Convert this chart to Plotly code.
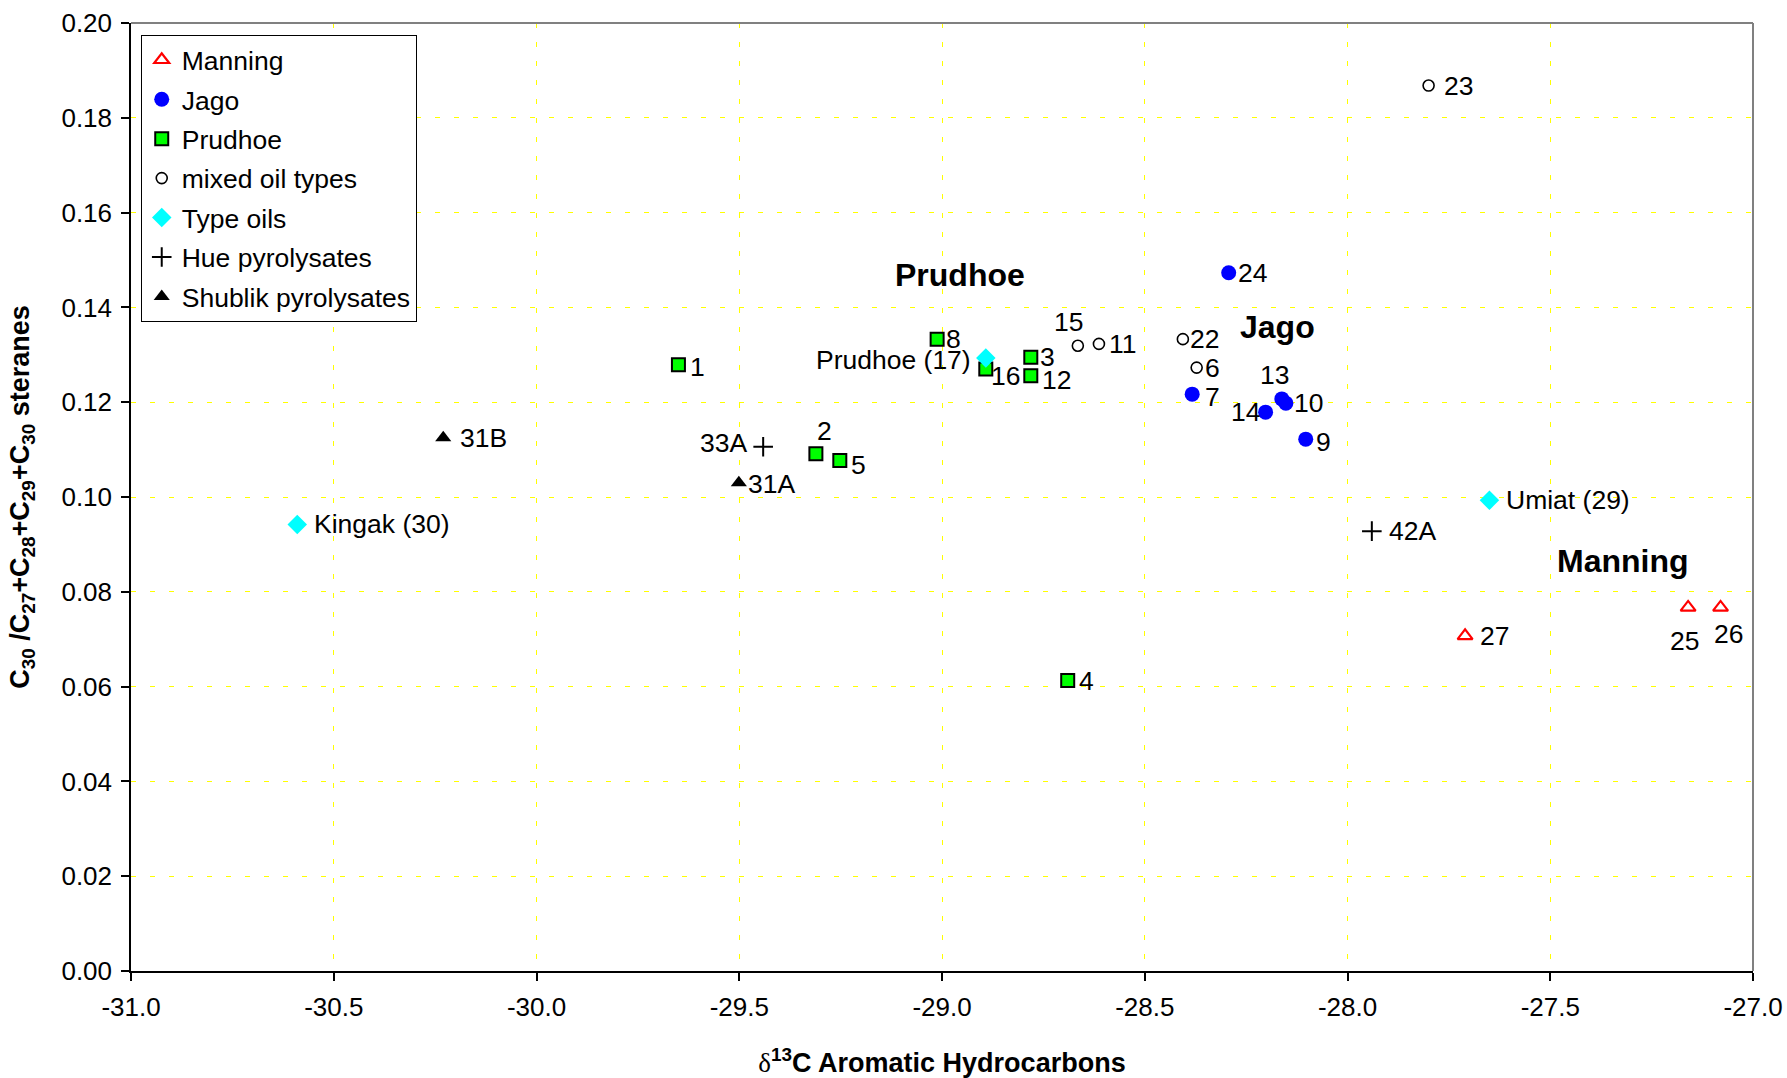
import plotly.graph_objects as go

# ---------------- data ----------------
manning_labels = ["25", "26", "27"]
manning_x = [-27.16, -27.08, -27.71]
manning_y = [0.0767, 0.0767, 0.0707]

jago_labels = ["24", "7", "14", "13", "10", "9"]
jago_x = [-28.293, -28.383, -28.202, -28.162, -28.152, -28.103]
jago_y = [0.1473, 0.1217, 0.1179, 0.1207, 0.1198, 0.1122]

prudhoe_labels = ["1", "8", "16", "3", "12", "2", "5", "4"]
prudhoe_x = [-29.65, -29.012, -28.892, -28.781, -28.781, -29.311, -29.252, -28.69]
prudhoe_y = [0.1279, 0.1333, 0.1270, 0.1295, 0.1256, 0.1091, 0.1077, 0.0613]

mixed_labels = ["23", "15", "11", "22", "6"]
mixed_x = [-27.80, -28.665, -28.613, -28.406, -28.372]
mixed_y = [0.1868, 0.1319, 0.1323, 0.1333, 0.1273]

type_labels = ["Kingak (30)", "Prudhoe (17)", "Umiat (29)"]
type_x = [-30.59, -28.892, -27.65]
type_y = [0.0942, 0.1293, 0.0993]

hue_labels = ["33A", "42A"]
hue_x = [-29.441, -27.94]
hue_y = [0.1106, 0.0928]

shublik_labels = ["31B", "31A"]
shublik_x = [-30.23, -29.501]
shublik_y = [0.1125, 0.1030]

region_names = ["Prudhoe", "Jago", "Manning"]
region_x = [-28.956, -28.172, -27.321]
region_y = [0.1468, 0.1359, 0.0864]

x_ticks = [-31.0, -30.5, -30.0, -29.5, -29.0, -28.5, -28.0, -27.5, -27.0]
x_ticktext = ["-31.0", "-30.5", "-30.0", "-29.5", "-29.0", "-28.5", "-28.0", "-27.5", "-27.0"]
y_ticks = [0.00, 0.02, 0.04, 0.06, 0.08, 0.10, 0.12, 0.14, 0.16, 0.18, 0.20]
y_ticktext = ["0.00", "0.02", "0.04", "0.06", "0.08", "0.10", "0.12", "0.14", "0.16", "0.18", "0.20"]

# ---------------- label placement (style) ----------------
label_place = {
    "25": ("center", -4, -34), "26": ("center", 8, -27), "27": ("left", 13, 0),
    "24": ("left", 7, 0), "7": ("left", 11, -3), "14": ("right", -4, 0),
    "13": ("center", -7, 24), "10": ("left", 6, 0), "9": ("left", 8, -3),
    "1": ("left", 10, -2), "8": ("left", 7, 0), "16": ("left", 3, -7),
    "3": ("left", 7, 0), "12": ("left", 9, -4), "2": ("center", 9, 23),
    "5": ("left", 9, -4), "4": ("left", 9, -1),
    "23": ("left", 13, 0), "15": ("center", -9, 24), "11": ("left", 8, 0),
    "22": ("left", 5, 0), "6": ("left", 6, 0),
    "Kingak (30)": ("left", 15, 0), "Prudhoe (17)": ("right", -13, -2),
    "Umiat (29)": ("left", 15, 0),
    "33A": ("right", -14, 4), "42A": ("left", 15, 0),
    "31A": ("left", 7, -1), "31B": ("left", 15, 0),
}

FONT = "Arial, 'Liberation Sans', sans-serif"

fig = go.Figure()

groups = [
    ("Manning", manning_labels, manning_x, manning_y,
     dict(symbol="triangle-up-open", size=13, color="#FF0000", line=dict(color="#FF0000", width=2.2))),
    ("Jago", jago_labels, jago_x, jago_y,
     dict(symbol="circle", size=15, color="#0000FF", line=dict(width=0))),
    ("Prudhoe", prudhoe_labels, prudhoe_x, prudhoe_y,
     dict(symbol="square", size=13, color="#00FF00", line=dict(color="#000000", width=2))),
    ("mixed oil types", mixed_labels, mixed_x, mixed_y,
     dict(symbol="circle-open", size=11, color="#000000", line=dict(color="#000000", width=1.6))),
    ("Type oils", type_labels, type_x, type_y,
     dict(symbol="diamond", size=15, color="#00FFFF", line=dict(width=0))),
    ("Hue pyrolysates", hue_labels, hue_x, hue_y,
     dict(symbol="cross-thin-open", size=14, color="#000000", line=dict(color="#000000", width=2))),
    ("Shublik pyrolysates", shublik_labels, shublik_x, shublik_y,
     dict(symbol="triangle-up", size=14, color="#000000", line=dict(width=0))),
]

annotations = []
for i, (name, labels, xs, ys, marker) in enumerate(groups):
    fig.add_trace(go.Scatter(
        x=xs, y=ys, mode="markers", name=name, marker=marker,
        legendgroup=f"g{i}", hoverinfo="skip",
    ))
    for lab, xv, yv in zip(labels, xs, ys):
        anchor, dx, dy = label_place.get(lab, ("left", 10, 0))
        annotations.append(dict(
            x=xv, y=yv, xref="x", yref="y", text=lab, showarrow=False,
            xanchor=anchor, yanchor="middle", xshift=dx, yshift=dy,
            font=dict(family=FONT, size=26.5, color="#000000"),
        ))

for name, xv, yv in zip(region_names, region_x, region_y):
    annotations.append(dict(
        x=xv, y=yv, xref="x", yref="y", text=f"<b>{name}</b>", showarrow=False,
        xanchor="center", yanchor="middle",
        font=dict(family=FONT, size=32, color="#000000"),
    ))

grid_color = "#FFFF00"

fig.update_layout(
    width=1787, height=1078,
    margin=dict(l=131, r=34, t=23, b=107, autoexpand=False),
    paper_bgcolor="white", plot_bgcolor="white",
    font=dict(family=FONT, size=26, color="#000000"),
    showlegend=True,
    legend=dict(
        x=0.006, y=0.9873, xanchor="left", yanchor="top",
        bgcolor="white", bordercolor="#000000", borderwidth=1,
        font=dict(family=FONT, size=26.5, color="#000000"),
        tracegroupgap=2, traceorder="grouped", itemsizing="trace",
    ),
    annotations=annotations,
    shapes=[
        dict(type="line", xref="paper", yref="paper", x0=0, x1=1, y0=1, y1=1,
             line=dict(color="#808080", width=2), layer="above"),
        dict(type="line", xref="paper", yref="paper", x0=1, x1=1, y0=0, y1=1,
             line=dict(color="#808080", width=2), layer="above"),
    ],
    xaxis=dict(
        range=[-31, -27], tickvals=x_ticks, ticktext=x_ticktext,
        showgrid=True, gridcolor=grid_color, gridwidth=1, griddash="5px,14px",
        zeroline=False, showline=True, linecolor="#000000", linewidth=1.5,
        ticks="outside", ticklen=8, tickcolor="#000000", tickwidth=1.5,
        tickfont=dict(family=FONT, size=26), ticklabelstandoff=4,
        title=dict(
            text="<span style=\"font-family:'Times New Roman','Liberation Serif',serif;font-weight:normal\">δ</span><sup>13</sup>C Aromatic Hydrocarbons",
            font=dict(family=FONT, size=27, weight="bold"), standoff=38,
        ),
        automargin=False,
    ),
    yaxis=dict(
        range=[0, 0.20], tickvals=y_ticks, ticktext=y_ticktext,
        showgrid=True, gridcolor=grid_color, gridwidth=1, griddash="5px,14px",
        zeroline=False, showline=True, linecolor="#000000", linewidth=1.5,
        ticks="outside", ticklen=8, tickcolor="#000000", tickwidth=1.5,
        tickfont=dict(family=FONT, size=26), ticklabelstandoff=4,
        title=dict(
            text="C<sub>30</sub> /C<sub>27</sub>+C<sub>28</sub>+C<sub>29</sub>+C<sub>30</sub> steranes",
            font=dict(family=FONT, size=27, weight="bold"), standoff=24,
        ),
        automargin=False,
    ),
)

fig.write_html("out.html")
